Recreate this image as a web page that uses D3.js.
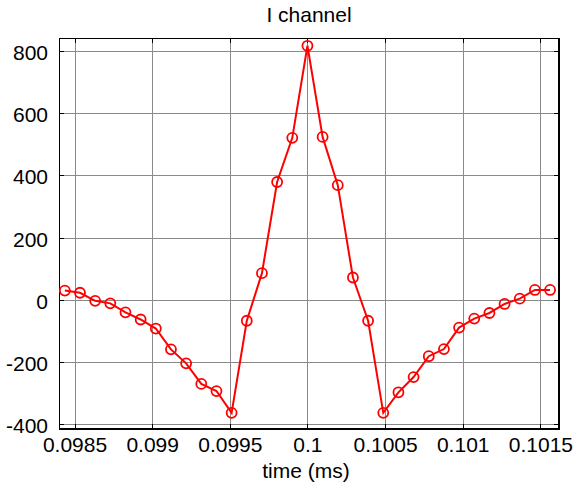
<!DOCTYPE html>
<html lang="en">
<head>
<meta charset="utf-8">
<title>I channel</title>
<style>
body{
  margin: 0;
  background: #fff;
}

#chart text{
  font-family: "Liberation Sans", Arial, sans-serif;
  font-size: 21px;
  fill: #000;
}

.grid line{
  stroke: #8a8a8a;
  stroke-width: 1;
  shape-rendering: crispEdges;
}

.axis path, .axis line{
  fill: none;
  stroke: #000;
  shape-rendering: crispEdges;
}
</style>
<script src="https://d3js.org/d3.v7.min.js"></script>
</head>
<body>
<div id="chart"></div>

<script>
/* sample times (ms) and I channel values */
var times = [0.0984375, 0.09853516, 0.09863281, 0.09873047, 0.09882813, 0.09892578,
  0.09902344, 0.09912109, 0.09921875, 0.09931641, 0.09941406, 0.09951172,
  0.09960938, 0.09970703, 0.09980469, 0.09990234, 0.1, 0.10009766,
  0.10019531, 0.10029297, 0.10039063, 0.10048828, 0.10058594, 0.10068359,
  0.10078125, 0.10087891, 0.10097656, 0.10107422, 0.10117188, 0.10126953,
  0.10136719, 0.10146484, 0.1015625];
var values = [30, 23, -3, -11, -40, -63, -92, -159, -204, -270, -293, -363,
  -67, 86, 379, 521, 817, 524, 369, 72, -67, -363,
  -297, -248, -181, -158, -89, -60, -42, -13, 4, 32, 32];

var xTicks = [0.0985, 0.099, 0.0995, 0.1, 0.1005, 0.101, 0.1015];
var xTickLabels = ['0.0985', '0.099', '0.0995', '0.1', '0.1005', '0.101', '0.1015'];
var yTicks = [-400, -200, 0, 200, 400, 600, 800];
var yTickLabels = ['-400', '-200', '0', '200', '400', '600', '800'];

var titleText = 'I channel';
var xLabelText = 'time (ms)';

var data = times.map(function(t, i) { return { t: t, v: values[i] }; });

var margin = { top: 38, right: 14, bottom: 58, left: 59 };
var width = 573 - margin.left - margin.right,
    height = 487 - margin.top - margin.bottom;

var xScale = d3.scaleLinear()
  .domain([0.0984, 0.10162])
  .range([0, width]);

var yScale = d3.scaleLinear()
  .domain([-415, 842])
  .range([height, 0]);

var svg = d3.select('#chart')
  .append('svg')
  .attr('width', 573)
  .attr('height', 487);

var graph = svg.append('g')
  .attr('transform', 'translate(' + margin.left + ',' + margin.top + ')');

/* grid */
var grid = graph.append('g').attr('class', 'grid');
grid.selectAll('line.vx')
  .data(xTicks)
  .enter()
  .append('line')
  .attr('x1', function(d) { return Math.round(xScale(d)) + 0.5; })
  .attr('x2', function(d) { return Math.round(xScale(d)) + 0.5; })
  .attr('y1', 0)
  .attr('y2', height);
grid.selectAll('line.hy')
  .data(yTicks)
  .enter()
  .append('line')
  .attr('y1', function(d) { return Math.round(yScale(d)) + 0.5; })
  .attr('y2', function(d) { return Math.round(yScale(d)) + 0.5; })
  .attr('x1', 0)
  .attr('x2', width);

/* axes, ticks pointing inward on all four sides */
var tickLen = 5;

graph.append('g')
  .attr('class', 'axis')
  .attr('transform', 'translate(0,' + height + ')')
  .call(d3.axisBottom(xScale)
    .tickValues(xTicks)
    .tickFormat(function(d, i) { return xTickLabels[i]; })
    .tickSize(-tickLen)
    .tickSizeOuter(0)
    .tickPadding(8))
  .call(function(g) { g.selectAll('text').attr('dy', '0.71em'); });

graph.append('g')
  .attr('class', 'axis')
  .call(d3.axisTop(xScale)
    .tickValues(xTicks)
    .tickFormat('')
    .tickSize(-tickLen)
    .tickSizeOuter(0));

graph.append('g')
  .attr('class', 'axis')
  .call(d3.axisLeft(yScale)
    .tickValues(yTicks)
    .tickFormat(function(d, i) { return yTickLabels[i]; })
    .tickSize(-tickLen)
    .tickSizeOuter(0)
    .tickPadding(11))
  .call(function(g) { g.selectAll('text').attr('dy', '0.4em'); });

graph.append('g')
  .attr('class', 'axis')
  .attr('transform', 'translate(' + width + ',0)')
  .call(d3.axisRight(yScale)
    .tickValues(yTicks)
    .tickFormat('')
    .tickSize(-tickLen)
    .tickSizeOuter(0));

graph.selectAll('.axis .domain').remove();

/* box */
graph.append('rect')
  .attr('x', 0.5)
  .attr('y', 0.5)
  .attr('width', width - 0.5)
  .attr('height', height - 0.5)
  .style('fill', 'none')
  .style('stroke', '#000')
  .style('stroke-width', 1.3)
  .style('shape-rendering', 'crispEdges');

/* line + markers */
var line = d3.line()
  .x(function(d) { return xScale(d.t); })
  .y(function(d) { return yScale(d.v); });

graph.append('path')
  .datum(data)
  .attr('d', line)
  .style('fill', 'none')
  .style('stroke', '#ff0000')
  .style('stroke-width', 2);

graph.selectAll('circle')
  .data(data)
  .enter()
  .append('circle')
  .attr('cx', function(d) { return xScale(d.t); })
  .attr('cy', function(d) { return yScale(d.v); })
  .attr('r', 5)
  .style('fill', 'none')
  .style('stroke', '#ff0000')
  .style('stroke-width', 1.8);

/* title and x label */
svg.append('text')
  .attr('x', margin.left + width / 2)
  .attr('y', 22)
  .attr('text-anchor', 'middle')
  .text(titleText);

svg.append('text')
  .attr('x', margin.left + width / 2 - 3)
  .attr('y', 478)
  .attr('text-anchor', 'middle')
  .text(xLabelText);
</script>
</body>
</html>
